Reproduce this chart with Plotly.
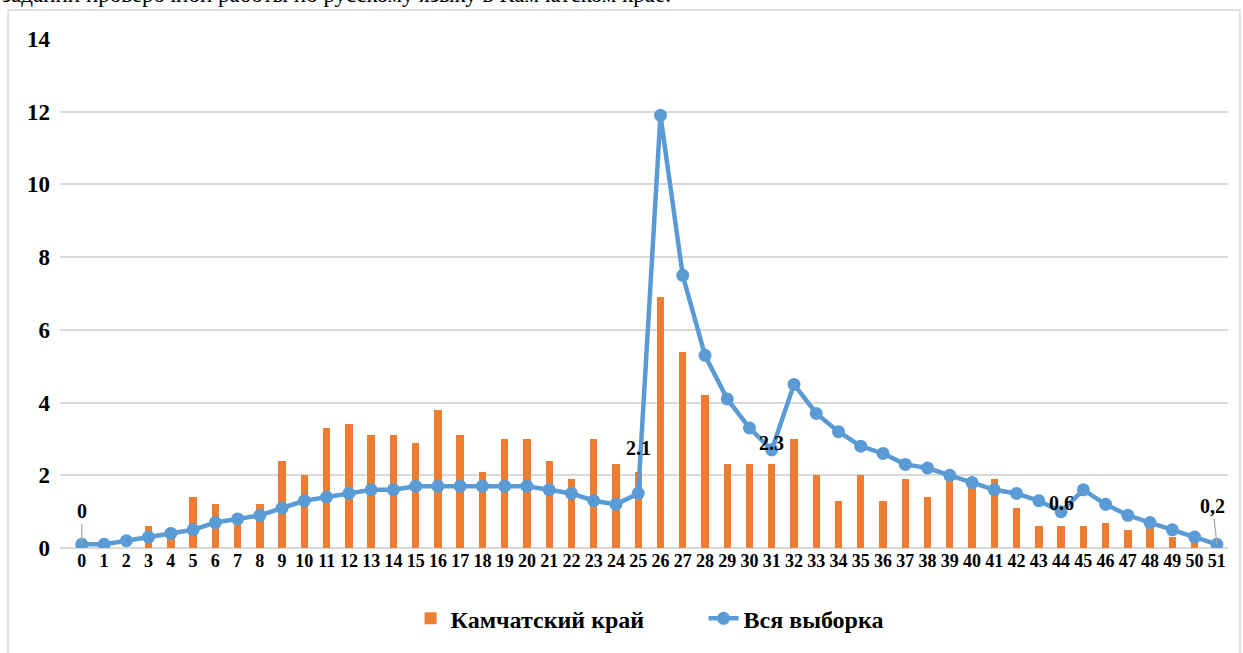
import plotly.graph_objects as go

# categories (task numbers) and series values
tasks = list(range(52))
kamchatka = [0, 0, 0, 0.6, 0.3, 1.4, 1.2, 0.7, 1.2, 2.4,
             2.0, 3.3, 3.4, 3.1, 3.1, 2.9, 3.8, 3.1, 2.1, 3.0,
             3.0, 2.4, 1.9, 3.0, 2.3, 2.1, 6.9, 5.4, 4.2, 2.3,
             2.3, 2.3, 3.0, 2.0, 1.3, 2.0, 1.3, 1.9, 1.4, 2.0,
             1.8, 1.9, 1.1, 0.6, 0.6, 0.6, 0.7, 0.5, 0.6, 0.3,
             0.2, 0]
whole_sample = [0.1, 0.1, 0.2, 0.3, 0.4, 0.5, 0.7, 0.8, 0.9, 1.1,
                1.3, 1.4, 1.5, 1.6, 1.6, 1.7, 1.7, 1.7, 1.7, 1.7,
                1.7, 1.6, 1.5, 1.3, 1.2, 1.5, 11.9, 7.5, 5.3, 4.1,
                3.3, 2.7, 4.5, 3.7, 3.2, 2.8, 2.6, 2.3, 2.2, 2.0,
                1.8, 1.6, 1.5, 1.3, 1.0, 1.6, 1.2, 0.9, 0.7, 0.5,
                0.3, 0.1]
y_ticks = [0, 2, 4, 6, 8, 10, 12, 14]

# data labels: (task, label y, text)
point_labels = [(25, 2.74, '2.1'), (31, 2.9, '2.3'), (44, 1.23, '0.6')]

ORANGE = '#ED7D31'
BLUE = '#5B9BD5'
GRID = '#D9D9D9'
FONT = 'Liberation Serif'

fig = go.Figure()

fig.add_trace(go.Bar(
    x=tasks, y=kamchatka, width=0.33,
    marker=dict(color=ORANGE, line=dict(width=0)),
    name='<b>Камчатский край</b>'
))

fig.add_trace(go.Scatter(
    x=tasks, y=whole_sample,
    mode='lines+markers',
    line=dict(color=BLUE, width=4.5),
    marker=dict(color=BLUE, size=13),
    name='<b>Вся выборка</b>'
))

# ── data labels ──
for t, ly, txt in point_labels:
    fig.add_annotation(
        x=t, y=ly, text=f'<b>{txt}</b>', showarrow=False,
        font=dict(family=FONT, size=20, color='black')
    )

# labels with leader lines
fig.add_annotation(
    x=tasks[0], y=whole_sample[0], text='<b>0</b>',
    showarrow=True, arrowhead=0, arrowwidth=1.2, arrowcolor='#A6A6A6',
    ax=0, ay=-33, font=dict(family=FONT, size=20, color='black')
)
fig.add_annotation(
    x=tasks[51], y=whole_sample[51], text='<b>0,2</b>',
    showarrow=True, arrowhead=0, arrowwidth=1.2, arrowcolor='#A6A6A6',
    ax=-4, ay=-38, font=dict(family=FONT, size=20, color='black')
)

# cut-off line of document text above the chart
fig.add_annotation(
    xref='paper', yref='paper', x=-0.0514, y=1.0587,
    xanchor='left', yanchor='bottom', showarrow=False,
    text='заданий проверочной работы по русскому языку в Камчатском крае.',
    font=dict(family=FONT, size=23, color='black')
)

# chart frame
fig.add_shape(type='rect', xref='paper', yref='paper',
              x0=-0.0445, y0=-0.22, x1=1.0103, y1=1.0568,
              line=dict(color=GRID, width=1.5), fillcolor='rgba(0,0,0,0)',
              layer='below')

fig.update_layout(
    width=1243, height=653,
    paper_bgcolor='white', plot_bgcolor='white',
    margin=dict(l=60, r=15, t=39, b=103),
    font=dict(family=FONT, color='black'),
    bargap=0,
    xaxis=dict(
        range=[-0.98, 51.5], tickmode='array', tickvals=tasks,
        ticktext=[f'<b>{t}</b>' for t in tasks],
        tickfont=dict(family=FONT, size=18, color='black'),
        showgrid=False, zeroline=False, showline=False, ticks=''
    ),
    yaxis=dict(
        range=[0, 14], tickmode='array', tickvals=y_ticks,
        ticktext=[f'<b>{v}</b>' for v in y_ticks],
        tickfont=dict(family=FONT, size=23, color='black'),
        showgrid=True, gridcolor=GRID, gridwidth=1.5,
        zeroline=True, zerolinecolor=GRID, zerolinewidth=1.5,
        showline=False, ticks='', ticklabelstandoff=9
    ),
    showlegend=True,
    legend=dict(
        orientation='h', x=0.551, xanchor='center', y=-0.139, yanchor='middle',
        font=dict(family=FONT, size=24, color='black'),
        bgcolor='rgba(0,0,0,0)', entrywidth=248, entrywidthmode='pixels'
    )
)

# page body has a default 8px margin; drop it so the figure sits at (0, 0)
fig.write_html("out.html", config={'displayModeBar': False},
               post_script="document.body.style.margin='0px';")
